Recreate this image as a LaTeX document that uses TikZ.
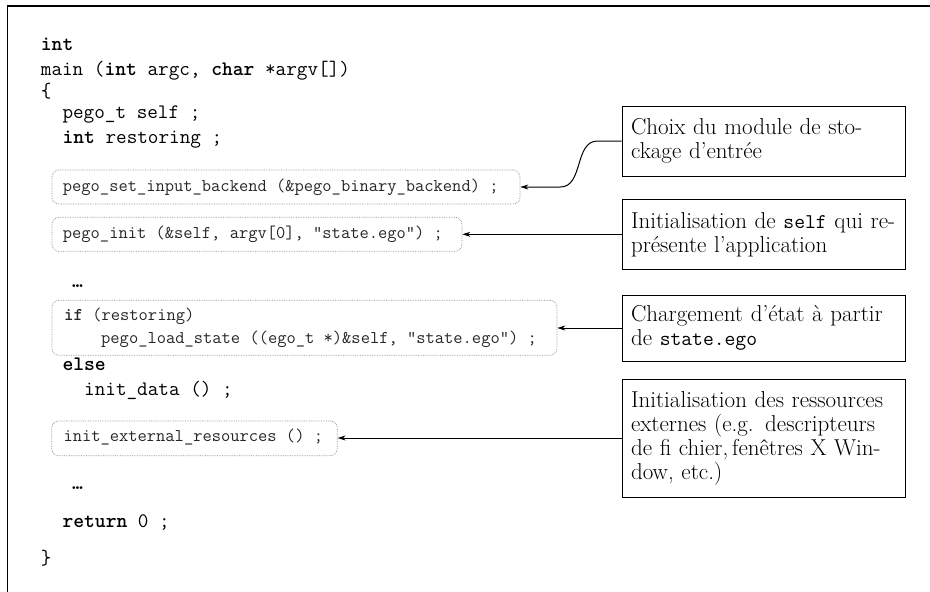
\documentclass[tikz,border=0pt]{standalone}
\usepackage{fontspec}
\usetikzlibrary{arrows.meta,calc}
\tikzset{
  codebox/.style={draw=black!45, densely dotted, rounded corners=7pt, line width=0.7pt, inner sep=0pt},
  code/.style={anchor=base west, inner sep=0pt, font=\ttfamily\fontsize{20.6}{24}\selectfont},
  smallcode/.style={anchor=base west, inner sep=0pt, text=black!85, font=\ttfamily\fontsize{18}{20}\selectfont},
  note/.style={draw, line width=1pt, text width=265pt, inner xsep=9pt, inner ysep=0pt, align=left, font=\fontsize{23}{24}\selectfont},
  arr/.style={line width=1pt, -{Stealth[length=8pt,width=5pt]}},
  dots/.style={anchor=base west, inner sep=0pt, font=\ttfamily\bfseries\fontsize{20.6}{24}\selectfont},
}
\begin{document}
\begin{tikzpicture}[x=1pt,y=-1pt]
\useasboundingbox (0,0) rectangle (930,592);
% frame (only top and left edges visible)
\draw[line width=1.5pt] (7.5,592) -- (7.5,6) -- (930,6);

% main code
\node[code] (l1) at (40.7,50) {\textbf{int}};
\node[code] (l2) at (40.7,75) {main (\textbf{int} argc, \textbf{char} *argv[])};
\node[code] (l3) at (40.7,97) {\{};
\node[code] (l4) at (62.3,118.5) {pego\_t self ;};
\node[code] (l5) at (62.3,143) {\textbf{int} restoring ;};

% dotted boxes
\node[codebox, minimum width=468pt, minimum height=34pt] (b1) at (286,187) {};
\node[smallcode] (t1) at (62.7,191.7) {pego\_set\_input\_backend (\&pego\_binary\_backend) ;};

\node[codebox, minimum width=410pt, minimum height=34pt] (b2) at (257,234.3) {};
\node[smallcode] (t2) at (62.7,238.7) {pego\_init (\&self, argv[0], "state.ego") ;};

\node[dots] (d1) at (72,287) {…};

\node[codebox, minimum width=505pt, minimum height=55pt] (b3) at (304.5,327.8) {};
\node[smallcode] (t3a) at (64,320.7) {\textbf{if} (restoring)};
\node[smallcode] (t3b) at (101,343.3) {pego\_load\_state ((ego\_t *)\&self, "state.ego") ;};

\node[code] (l6) at (62.3,370) {\textbf{else}};
\node[code] (l7) at (84,395) {init\_data () ;};

\node[codebox, minimum width=285.6pt, minimum height=34.7pt] (b4) at (194.5,438.3) {};
\node[smallcode] (t4) at (63.3,441.7) {init\_external\_resources () ;};

\node[dots] (d2) at (72,489) {…};

\node[code] (l8) at (62.3,527) {\textbf{return} 0 ;};
\node[code] (l9) at (40.7,564) {\}};

% notes
\node[note, minimum height=70pt] (c1) at (763.5,141) {Choix du module de sto-\\ckage d’entrée};
\node[note, minimum height=70pt] (c2) at (763.5,234.3) {Initialisation de {\ttfamily\fontsize{21}{24}\selectfont self} qui re-\\présente l’application};
\node[note, minimum height=66pt] (c3) at (763.5,328) {Chargement d’état à partir\\de {\ttfamily\fontsize{21}{24}\selectfont state.ego}};
\node[note, minimum height=118pt] (c4) at (763.5,438) {Initialisation des ressources\\externes (e.g. descripteurs\\de fi chier,\,fenêtres X Win-\\dow, etc.)};

% connectors
\draw[arr] (c1.west) -- ++(-24,0) to[out=180,in=0] ($(b1.east)+(40,0)$) -- (b1.east);
\draw[arr] (c2.west) -- (c2.west -| b2.east);
\draw[arr] (c3.west) -- (c3.west -| b3.east);
\draw[arr] (c4.west) -- (c4.west -| b4.east);
\end{tikzpicture}
\end{document}
